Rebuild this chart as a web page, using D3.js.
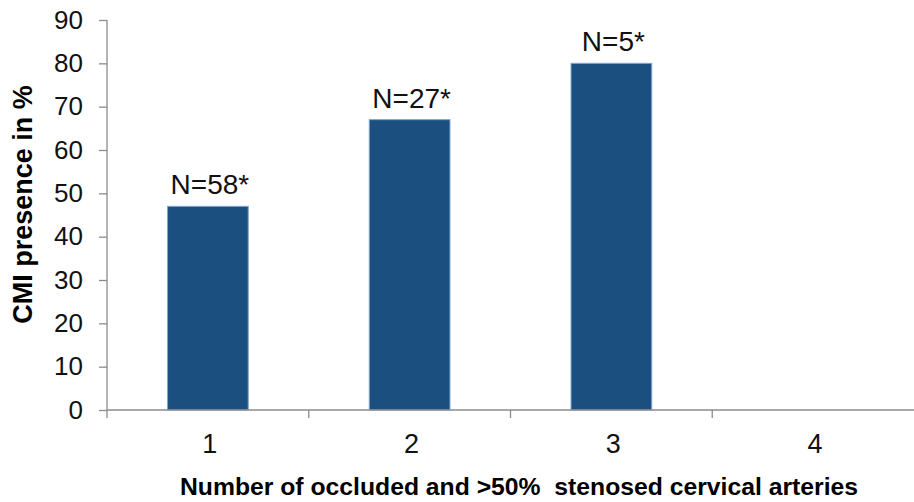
<!DOCTYPE html>
<html>
<head>
<meta charset="utf-8">
<script src="https://cdn.jsdelivr.net/npm/d3@7"></script>
<style>
  html, body { margin: 0; padding: 0; background: #fff; }
  svg { display: block; font-family: Arial, "Liberation Sans", sans-serif; }
</style>
</head>
<body>
<svg id="chart" width="914" height="502"></svg>
<script>
// Number of occluded / >50% stenosed cervical arteries
const categories = ["1", "2", "3", "4"];
// CMI presence (%) per group; group 4 has no bar
const values = [47, 67, 80, null];
// Group sizes shown above the bars
const barLabels = ["N=58*", "N=27*", "N=5*", ""];
const yTicks = [0, 10, 20, 30, 40, 50, 60, 70, 80, 90];

const yTitle = "CMI presence in %";
const xTitle = "Number of occluded and >50%\u00a0 stenosed cervical arteries";

(function draw() {
  const svg = d3.select("#chart");
  const plotLeft = 107, plotRight = 914, plotTop = 20, plotBottom = 410;
  const axisColor = "#8c8c8c";

  const x = d3.scaleBand()
    .domain(categories)
    .range([plotLeft, plotRight])
    .paddingInner(0.6)
    .paddingOuter(0.3);

  // category boundaries for the x-axis tick marks
  const xEdge = d3.scaleLinear().domain([0, categories.length]).range([plotLeft, plotRight]);

  const y = d3.scaleLinear().domain([0, 90]).range([plotBottom, plotTop]);

  // bars
  const data = categories.map((c, i) => ({ c, v: values[i], label: barLabels[i] }));
  const withValue = data.filter(d => d.v != null);

  svg.append("g").selectAll("rect")
    .data(withValue)
    .join("rect")
    .attr("x", d => x(d.c))
    .attr("y", d => y(d.v))
    .attr("width", x.bandwidth())
    .attr("height", d => y(0) - y(d.v))
    .attr("fill", "#1a4f80")
    .attr("stroke", "#7fa3cf")
    .attr("stroke-width", 1);

  // value labels
  svg.append("g").selectAll("text")
    .data(withValue)
    .join("text")
    .attr("x", d => x(d.c) + x.bandwidth() / 2 + 2)
    .attr("y", d => y(d.v) - 12)
    .attr("text-anchor", "middle")
    .attr("font-size", 28)
    .attr("fill", "#111")
    .text(d => d.label);

  // y axis
  const yAxis = svg.append("g")
    .attr("transform", `translate(${plotLeft},0)`)
    .call(d3.axisLeft(y).tickValues(yTicks).tickSize(8).tickPadding(16).tickSizeOuter(0));
  yAxis.select(".domain").attr("stroke", axisColor).attr("stroke-width", 1.3)
    .attr("d", `M0,${plotTop}V${plotBottom + 8}`);
  yAxis.selectAll(".tick line").attr("stroke", axisColor).attr("stroke-width", 1.3);
  yAxis.selectAll(".tick text").attr("font-size", 26).attr("fill", "#111")
    .attr("font-family", "Arial, 'Liberation Sans', sans-serif");

  // x axis line and boundary ticks
  const xAxis = svg.append("g");
  xAxis.append("line")
    .attr("x1", plotLeft).attr("x2", plotRight)
    .attr("y1", plotBottom).attr("y2", plotBottom)
    .attr("stroke", axisColor).attr("stroke-width", 1.3);
  xAxis.selectAll("line.edge")
    .data(d3.range(1, categories.length))
    .join("line")
    .attr("class", "edge")
    .attr("x1", d => xEdge(d)).attr("x2", d => xEdge(d))
    .attr("y1", plotBottom).attr("y2", plotBottom + 8)
    .attr("stroke", axisColor).attr("stroke-width", 1.3);
  xAxis.selectAll("text")
    .data(categories)
    .join("text")
    .attr("x", d => x(d) + x.bandwidth() / 2 + 2)
    .attr("y", 453)
    .attr("text-anchor", "middle")
    .attr("font-size", 27)
    .attr("fill", "#111")
    .text(d => d);

  // axis titles
  svg.append("text")
    .attr("transform", `translate(32,${(82 + 327) / 2}) rotate(-90)`)
    .attr("text-anchor", "middle")
    .attr("font-size", 27)
    .attr("font-weight", "bold")
    .attr("fill", "#000")
    .text(yTitle);

  svg.append("text")
    .attr("x", 180)
    .attr("y", 495)
    .attr("font-size", 23)
    .attr("font-weight", "bold")
    .attr("fill", "#000")
    .attr("textLength", 678)
    .attr("lengthAdjust", "spacingAndGlyphs")
    .text(xTitle);
})();
</script>
</body>
</html>
